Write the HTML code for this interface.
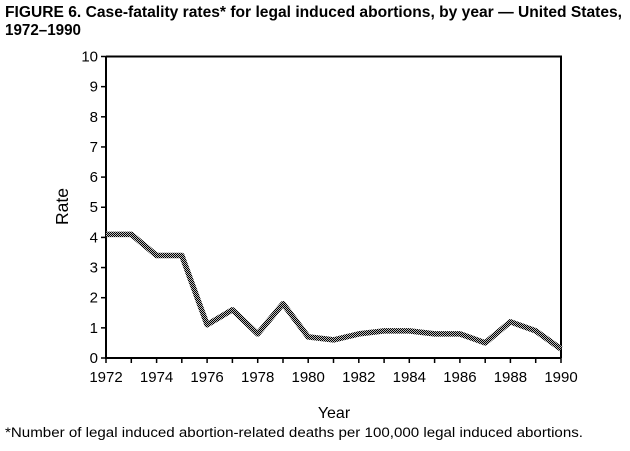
<!DOCTYPE html>
<html><head><meta charset="utf-8"><style>
html,body{margin:0;padding:0;background:#fff;}
svg{display:block;}
text{font-family:"Liberation Sans",Arial,sans-serif;fill:#000;}
</style></head><body>
<svg width="630" height="451" viewBox="0 0 630 451" xmlns="http://www.w3.org/2000/svg">
<defs>
<pattern id="chk" width="2" height="2" patternUnits="userSpaceOnUse">
<rect width="2" height="2" fill="#bbb"/>
<rect x="0" y="0" width="1" height="1" fill="#000"/>
<rect x="1" y="1" width="1" height="1" fill="#000"/>
</pattern>
</defs>
<text x="5" y="17" font-size="16" font-weight="bold" textLength="617" lengthAdjust="spacingAndGlyphs">FIGURE 6. Case-fatality rates* for legal induced abortions, by year — United States,</text>
<text x="5" y="35" font-size="16" font-weight="bold" textLength="76" lengthAdjust="spacingAndGlyphs">1972–1990</text>

<g stroke="#000" stroke-width="2" fill="none">
<path d="M106,56.5 H561 V358 M106,56.5 V358 H561"/>
</g>
<g stroke="#000" stroke-width="1.5">
<line x1="101" x2="106" y1="56.5" y2="56.5"/>
<line x1="101" x2="106" y1="86.65" y2="86.65"/>
<line x1="101" x2="106" y1="116.8" y2="116.8"/>
<line x1="101" x2="106" y1="146.95" y2="146.95"/>
<line x1="101" x2="106" y1="177.1" y2="177.1"/>
<line x1="101" x2="106" y1="207.25" y2="207.25"/>
<line x1="101" x2="106" y1="237.4" y2="237.4"/>
<line x1="101" x2="106" y1="267.55" y2="267.55"/>
<line x1="101" x2="106" y1="297.7" y2="297.7"/>
<line x1="101" x2="106" y1="327.85" y2="327.85"/>
<line x1="101" x2="106" y1="358" y2="358"/>
</g>
<g font-size="15" text-anchor="end">
<text x="98" y="61.5">10</text>
<text x="98" y="91.6">9</text>
<text x="98" y="121.8">8</text>
<text x="98" y="151.9">7</text>
<text x="98" y="182.1">6</text>
<text x="98" y="212.2">5</text>
<text x="98" y="242.4">4</text>
<text x="98" y="272.5">3</text>
<text x="98" y="302.7">2</text>
<text x="98" y="332.8">1</text>
<text x="98" y="363">0</text>
</g>
<g stroke="#000" stroke-width="1.5">
<line x1="106" x2="106" y1="358" y2="363"/>
<line x1="131.3" x2="131.3" y1="358" y2="363"/>
<line x1="156.6" x2="156.6" y1="358" y2="363"/>
<line x1="181.8" x2="181.8" y1="358" y2="363"/>
<line x1="207.1" x2="207.1" y1="358" y2="363"/>
<line x1="232.4" x2="232.4" y1="358" y2="363"/>
<line x1="257.7" x2="257.7" y1="358" y2="363"/>
<line x1="283" x2="283" y1="358" y2="363"/>
<line x1="308.2" x2="308.2" y1="358" y2="363"/>
<line x1="333.5" x2="333.5" y1="358" y2="363"/>
<line x1="358.8" x2="358.8" y1="358" y2="363"/>
<line x1="384.1" x2="384.1" y1="358" y2="363"/>
<line x1="409.3" x2="409.3" y1="358" y2="363"/>
<line x1="434.6" x2="434.6" y1="358" y2="363"/>
<line x1="459.9" x2="459.9" y1="358" y2="363"/>
<line x1="485.2" x2="485.2" y1="358" y2="363"/>
<line x1="510.4" x2="510.4" y1="358" y2="363"/>
<line x1="535.7" x2="535.7" y1="358" y2="363"/>
<line x1="561" x2="561" y1="358" y2="363"/>
</g>
<g font-size="15" text-anchor="middle">
<text x="106" y="382">1972</text>
<text x="156.6" y="382">1974</text>
<text x="207.1" y="382">1976</text>
<text x="257.7" y="382">1978</text>
<text x="308.2" y="382">1980</text>
<text x="358.8" y="382">1982</text>
<text x="409.3" y="382">1984</text>
<text x="459.9" y="382">1986</text>
<text x="510.4" y="382">1988</text>
<text x="561" y="382">1990</text>
</g>

<polyline fill="none" stroke="url(#chk)" stroke-width="5.5" stroke-linejoin="round" stroke-linecap="butt"
points="106,234.4 131.3,234.4 156.6,255.5 181.8,255.5 207.1,324.8 232.4,309.8 257.7,333.9 283,303.7 308.2,336.9 333.5,339.9 358.8,333.9 384.1,330.9 409.3,330.9 434.6,333.9 459.9,333.9 485.2,342.9 510.4,321.8 535.7,330.9 561,349"/>

<text x="68" y="206.5" font-size="17.5" text-anchor="middle" transform="rotate(-90 68 206.5)">Rate</text>
<text x="334" y="418" font-size="16" text-anchor="middle">Year</text>
<text x="5" y="437" font-size="13.5" textLength="578" lengthAdjust="spacingAndGlyphs">*Number of legal induced abortion-related deaths per 100,000 legal induced abortions.</text>
</svg>
</body></html>
